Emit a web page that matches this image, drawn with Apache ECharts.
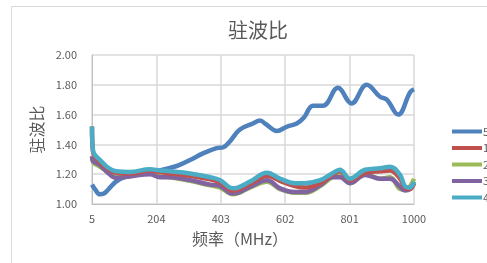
<!DOCTYPE html>
<html lang="zh">
<head>
    <meta charset="UTF-8">
    <title>驻波比</title>
    <script src="https://cdn.jsdelivr.net/npm/echarts@6/dist/echarts.min.js"></script>
    <style>
        html, body { margin: 0; padding: 0; background: #fff; }
    </style>
</head>
<body>
<div id="main" style="width:487px;height:263px;"></div>
<script type="text/javascript">
    // 频率 (MHz) 和各端口驻波比
    var seriesNames = ['5', '1', '2', '3', '4'];
    var xTicks = [5, 204, 403, 602, 801, 1000];

    var freq5 = [5, 14, 29, 42, 54, 79, 106, 153, 203, 267, 308, 348, 390, 410, 431, 462, 502, 524, 543, 576, 608, 638, 660, 688, 719, 765, 807, 854, 895, 916, 951, 988, 1000];
    var vswr5 = [1.13, 1.10, 1.065, 1.07, 1.094, 1.15, 1.18, 1.20, 1.22, 1.255, 1.295, 1.34, 1.375, 1.38, 1.42, 1.50, 1.54, 1.56, 1.535, 1.49, 1.52, 1.54, 1.58, 1.66, 1.66, 1.78, 1.675, 1.80, 1.72, 1.70, 1.60, 1.75, 1.77];

    var freq = [5, 8, 14, 30, 54, 79, 122, 184, 215, 246, 308, 370, 401, 441, 493, 546, 586, 632, 663, 710, 747, 771, 802, 849, 895, 926, 957, 972, 988, 1000];
    var vswr1 = [1.52, 1.35, 1.32, 1.28, 1.235, 1.21, 1.205, 1.225, 1.215, 1.205, 1.19, 1.165, 1.145, 1.09, 1.135, 1.19, 1.155, 1.12, 1.11, 1.14, 1.195, 1.22, 1.16, 1.21, 1.22, 1.225, 1.17, 1.11, 1.10, 1.14];
    var vswr2 = [1.32, 1.28, 1.27, 1.25, 1.215, 1.18, 1.19, 1.205, 1.185, 1.18, 1.155, 1.125, 1.11, 1.065, 1.11, 1.15, 1.10, 1.075, 1.075, 1.12, 1.18, 1.19, 1.14, 1.20, 1.17, 1.18, 1.10, 1.095, 1.12, 1.17];
    var vswr3 = [1.32, 1.29, 1.28, 1.26, 1.21, 1.175, 1.185, 1.20, 1.18, 1.18, 1.16, 1.13, 1.12, 1.07, 1.115, 1.16, 1.105, 1.08, 1.08, 1.125, 1.18, 1.18, 1.14, 1.195, 1.17, 1.17, 1.115, 1.09, 1.10, 1.14];
    var vswr4 = [1.52, 1.36, 1.33, 1.295, 1.245, 1.22, 1.215, 1.233, 1.225, 1.22, 1.205, 1.18, 1.16, 1.105, 1.15, 1.21, 1.17, 1.14, 1.14, 1.16, 1.205, 1.23, 1.17, 1.23, 1.24, 1.25, 1.195, 1.12, 1.11, 1.15];

    var colors = ['#4f81bd', '#c0504d', '#9bbb59', '#8064a2', '#4bacc6'];

    // x 轴从 5 开始, 刻度间隔 199, 所以整体平移 5
    var x0 = xTicks[0];
    function pairs(xs, ys) {
        return xs.map(function (x, i) { return [x - x0, ys[i]]; });
    }

    var lines = [
        pairs(freq5, vswr5),
        pairs(freq, vswr1),
        pairs(freq, vswr2),
        pairs(freq, vswr3),
        pairs(freq, vswr4)
    ];
    // 绘制顺序: 5 在最下, 4 在最上
    var drawOrder = [0, 2, 3, 1, 4];

    var myChart = echarts.init(document.getElementById('main'));
    var font = '"Noto Sans CJK SC", "Noto Sans", sans-serif';

    var option = {
        backgroundColor: '#fff',
        animation: false,
        color: colors,
        textStyle: { fontFamily: font },
        title: {
            text: '驻波比',
            left: 253,
            top: 15,
            textAlign: 'center',
            textStyle: { fontSize: 20, fontWeight: 'normal', color: '#595959', fontFamily: font }
        },
        graphic: [{
            type: 'rect',
            shape: { x: 11.5, y: 6.5, width: 500, height: 300 },
            style: { fill: 'none', stroke: '#d9d9d9', lineWidth: 1 },
            silent: true
        }],
        legend: {
            orient: 'vertical',
            left: 447,
            top: 121,
            itemWidth: 30,
            itemHeight: 4,
            itemGap: 5.5,
            icon: 'rect',
            data: seriesNames,
            textStyle: { fontSize: 11, color: '#595959', padding: [0, 0, 0, -4] }
        },
        grid: {
            left: 92,
            right: 73,
            top: 55,
            bottom: 59
        },
        xAxis: {
            type: 'value',
            min: 0,
            max: xTicks[xTicks.length - 1] - x0,
            interval: xTicks[1] - xTicks[0],
            name: '频率（MHz）',
            nameLocation: 'middle',
            nameGap: 27,
            nameTextStyle: { fontSize: 16, color: '#595959', padding: [0, 26, 0, 0] },
            axisLine: { lineStyle: { color: '#bfbfbf' } },
            axisTick: { show: false },
            axisLabel: {
                fontSize: 11,
                color: '#595959',
                margin: 9,
                formatter: function (v) { return String(v + x0); }
            },
            splitLine: { show: true, lineStyle: { color: '#d9d9d9', width: 1.5 } }
        },
        yAxis: {
            type: 'value',
            min: 1,
            max: 2,
            interval: 0.2,
            name: '驻波比',
            nameLocation: 'middle',
            nameGap: 45,
            nameTextStyle: { fontSize: 16, color: '#595959' },
            axisLine: { show: true, lineStyle: { color: '#bfbfbf' } },
            axisTick: { show: false },
            axisLabel: {
                fontSize: 11,
                color: '#595959',
                margin: 15,
                formatter: function (v) { return v.toFixed(2); }
            },
            splitLine: { show: true, lineStyle: { color: '#d9d9d9', width: 1.5 } }
        },
        series: drawOrder.map(function (k) {
            return {
                name: seriesNames[k],
                type: 'line',
                smooth: 0.4,
                showSymbol: false,
                symbol: 'none',
                z: 2 + drawOrder.indexOf(k),
                itemStyle: { color: colors[k] },
                lineStyle: { width: 4.5, color: colors[k] },
                data: lines[k]
            };
        })
    };

    myChart.setOption(option);
</script>
</body>
</html>
